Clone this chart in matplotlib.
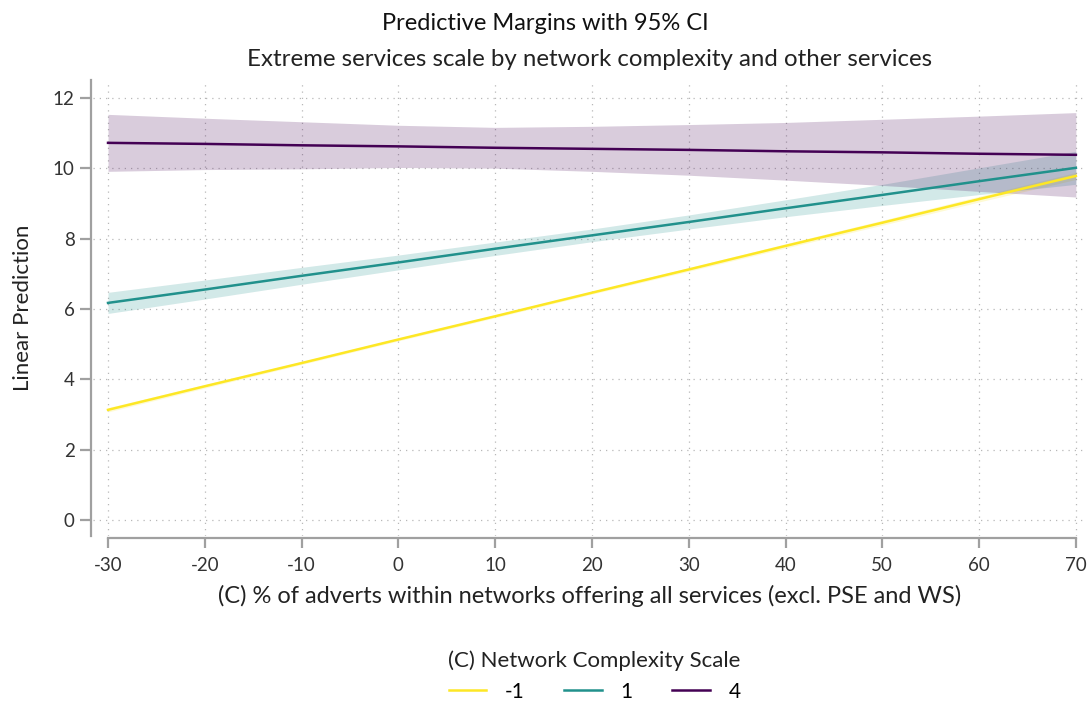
import numpy as np
import matplotlib.pyplot as plt

plt.rcParams['font.family'] = ['Lato', 'DejaVu Sans']
plt.rcParams['axes.unicode_minus'] = False

# evaluation points of the margins
x_pts = [-30, -20, -10, 0, 10, 20, 30, 40, 50, 60, 70]

# complexity = -1
yel_mean = [3.13, 3.80, 4.46, 5.13, 5.79, 6.46, 7.12, 7.79, 8.45, 9.12, 9.78]
yel_hw = [0.06, 0.05, 0.04, 0.04, 0.04, 0.04, 0.05, 0.06, 0.07, 0.08, 0.10]
# complexity = 1
teal_mean = [6.17, 6.55, 6.94, 7.32, 7.71, 8.09, 8.47, 8.86, 9.24, 9.63, 10.01]
teal_hw = [0.30, 0.27, 0.24, 0.21, 0.19, 0.18, 0.20, 0.24, 0.30, 0.38, 0.47]
# complexity = 4
purp_mean = [10.72, 10.69, 10.65, 10.62, 10.58, 10.55, 10.52, 10.48, 10.45, 10.41, 10.38]
purp_hw = [0.81, 0.73, 0.67, 0.60, 0.58, 0.64, 0.72, 0.82, 0.94, 1.07, 1.20]

groups = ['-1', '1', '4']
colors = ['#fde725', '#21918c', '#440154']

fig = plt.figure(figsize=(10.91, 7.02), dpi=100)
ax = fig.add_axes([0.0857, 0.2368, 0.9093, 0.6489])

series = [(yel_mean, yel_hw), (teal_mean, teal_hw), (purp_mean, purp_hw)]
x = np.array(x_pts, dtype=float)
handles = []
for (m, hw), c in zip(series, colors):
    m = np.array(m)
    hw = np.array(hw)
    ax.fill_between(x, m - hw, m + hw, color=c, alpha=0.2, linewidth=0)
for (m, hw), c, g in zip(series, colors, groups):
    h, = ax.plot(x, m, color=c, lw=1.8, label=g)
    handles.append(h)

ax.set_xlim(-31.5, 71)
ax.set_ylim(-0.45, 12.5)
ax.set_xticks(np.arange(-30, 71, 10))
ax.set_yticks(np.arange(0, 13, 2))
ax.grid(True, color='#b8b8b8', linestyle=(0, (1, 4)), linewidth=0.9)
ax.set_axisbelow(True)

for s in ['top', 'right']:
    ax.spines[s].set_visible(False)
for s in ['left', 'bottom']:
    ax.spines[s].set_color('#a0a0a0')
    ax.spines[s].set_linewidth(1.6)
ax.spines['left'].set_position(('outward', 1.5))
ax.spines['bottom'].set_position(('outward', 1.5))
ax.spines['bottom'].set_bounds(-30, 70)
ax.tick_params(axis='both', colors='#a0a0a0', labelcolor='#333333',
               labelsize=13.5, width=1.6)
ax.tick_params(axis='y', length=8, pad=4)
ax.tick_params(axis='x', length=7, pad=7)

ax.set_xlabel('(C) % of adverts within networks offering all services (excl. PSE and WS)',
              fontsize=17, color='#222222', labelpad=8)
ax.set_ylabel('Linear Prediction', fontsize=16, color='#222222', labelpad=14)
ax.set_title('Extreme services scale by network complexity and other services',
             fontsize=17.3, color='#222222', pad=10)
fig.suptitle('Predictive Margins with 95% CI', x=0.5, y=0.982, fontsize=17,
             color='#111111')

leg = fig.legend(handles=handles, labels=groups, loc='center',
                 bbox_to_anchor=(0.545, 0.037), ncol=3, frameon=False,
                 title='(C) Network Complexity Scale', fontsize=15,
                 title_fontsize=16, handlelength=1.8, columnspacing=1.9,
                 handletextpad=0.9)
leg.get_title().set_color('#222222')

fig.savefig('out.png', dpi=100)
